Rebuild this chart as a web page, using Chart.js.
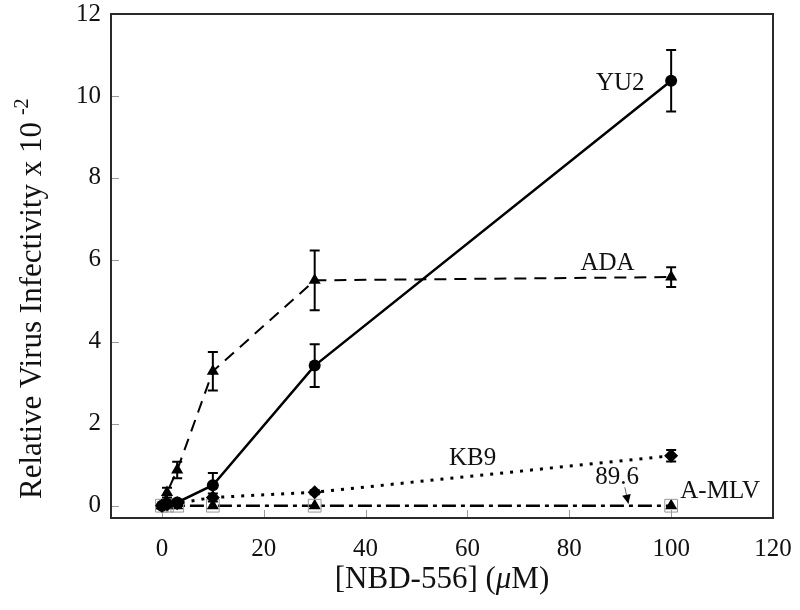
<!DOCTYPE html>
<html><head><meta charset="utf-8">
<script src="https://cdn.jsdelivr.net/npm/chart.js@4/dist/chart.umd.min.js"></script>
<style>html,body{margin:0;padding:0;background:#fff;} #wrap{width:800px;height:610px;position:relative;}</style>
</head><body><div id="wrap"><canvas id="c" width="800" height="610"></canvas></div>
<script>
// ---- data ----
const concentrations = [0, 1, 3, 10, 30, 100];
const yu2    = [0, 0.05, 0.08, 0.5, 3.42, 10.37];
const yu2Err = [0, 0, 0, 0.3, 0.52, 0.75];
const ada    = [0, 0.32, 0.87, 3.28, 5.5, 5.58];
const adaErr = [0, 0.12, 0.2, 0.47, 0.73, 0.24];
const kb9    = [0, 0.03, 0.06, 0.2, 0.33, 1.22];
const kb9Err = [0, 0, 0, 0.1, 0.05, 0.14];
const v896   = [0, 0, 0, 0, 0, 0];
const amlv   = [0, 0, 0, 0, 0, 0];
const xTicks = [0, 20, 40, 60, 80, 100, 120];
const yTicks = [0, 2, 4, 6, 8, 10, 12];
const seriesNames = ['YU2', 'ADA', 'KB9', '89.6', 'A-MLV'];
const xTitleParts = ['[NBD-556] (', '\u03BC', 'M)'];
const yTitle = 'Relative Virus Infectivity x 10';
const yTitleSup = '-2';

const SERIF = '"Liberation Serif", "Times New Roman", Times, serif';
const pts = (ys) => concentrations.map((x, i) => ({x: x, y: ys[i]}));

const errorBarPlugin = {
  id: 'errorBars',
  afterDatasetsDraw(chart) {
    const ctx = chart.ctx, xs = chart.scales.x, ys = chart.scales.y;
    ctx.save();
    ctx.strokeStyle = '#000';
    ctx.lineWidth = 2;
    chart.data.datasets.forEach((ds) => {
      if (!ds.errorBars) return;
      ds.data.forEach((p, i) => {
        const e = ds.errorBars[i];
        if (!e) return;
        const px = xs.getPixelForValue(p.x);
        const top = ys.getPixelForValue(p.y + e);
        const bot = ys.getPixelForValue(p.y - e);
        ctx.beginPath();
        ctx.moveTo(px, top); ctx.lineTo(px, bot);
        ctx.moveTo(px - 5, top); ctx.lineTo(px + 5, top);
        ctx.moveTo(px - 5, bot); ctx.lineTo(px + 5, bot);
        ctx.stroke();
      });
    });
    ctx.restore();
  }
};

const framePlugin = {
  id: 'frame',
  beforeDatasetsDraw(chart) {
    const ctx = chart.ctx, a = chart.chartArea, xs = chart.scales.x, ys = chart.scales.y;
    ctx.save();
    ctx.strokeStyle = '#999';
    ctx.lineWidth = 1;
    ctx.beginPath();
    xTicks.forEach(v => { const p = Math.round(xs.getPixelForValue(v)) + 0.5; ctx.moveTo(p, a.bottom); ctx.lineTo(p, a.bottom - 8); });
    yTicks.forEach(v => { const p = Math.round(ys.getPixelForValue(v)) + 0.5; ctx.moveTo(a.left, p); ctx.lineTo(a.left + 8, p); });
    ctx.stroke();
    ctx.restore();
  },
  afterDraw(chart) {
    const ctx = chart.ctx, a = chart.chartArea;
    ctx.save();
    ctx.strokeStyle = '#2a2a2a';
    ctx.lineWidth = 2;
    ctx.strokeRect(a.left, a.top, a.right - a.left, a.bottom - a.top);
    // x axis title (mu in italics)
    ctx.fillStyle = '#111';
    ctx.textBaseline = 'middle';
    ctx.textAlign = 'left';
    const fN = '31px ' + SERIF, fI = 'italic 31px ' + SERIF;
    ctx.font = fN; const w0 = ctx.measureText(xTitleParts[0]).width, w2 = ctx.measureText(xTitleParts[2]).width;
    ctx.font = fI; const w1 = ctx.measureText(xTitleParts[1]).width;
    let x = (a.left + a.right) / 2 - (w0 + w1 + w2) / 2;
    ctx.font = fN; ctx.fillText(xTitleParts[0], x, 580); x += w0;
    ctx.font = fI; ctx.fillText(xTitleParts[1], x, 580); x += w1;
    ctx.font = fN; ctx.fillText(xTitleParts[2], x, 580);
    // y axis title
    ctx.translate(33, 499);
    ctx.rotate(-Math.PI / 2);
    ctx.font = fN;
    ctx.fillText(yTitle, 0, 0);
    const w = ctx.measureText(yTitle).width;
    ctx.font = '20px ' + SERIF;
    ctx.fillText(yTitleSup, w + 7, -10);
    ctx.restore();
  }
};

const labelPlugin = {
  id: 'seriesLabels',
  afterDatasetsDraw(chart, args, opts) {
    const ctx = chart.ctx, xs = chart.scales.x, ys = chart.scales.y;
    ctx.save();
    ctx.fillStyle = '#111';
    ctx.font = '25px ' + SERIF;
    ctx.textBaseline = 'middle';
    opts.items.forEach(it => {
      ctx.textAlign = it.align || 'center';
      ctx.fillText(it.text, xs.getPixelForValue(it.x), ys.getPixelForValue(it.y));
    });
    // arrow for 89.6
    const ar = opts.arrow;
    const x1 = xs.getPixelForValue(ar.from[0]), y1 = ys.getPixelForValue(ar.from[1]);
    const x2 = xs.getPixelForValue(ar.to[0]), y2 = ys.getPixelForValue(ar.to[1]);
    ctx.strokeStyle = '#666'; ctx.lineWidth = 1;
    ctx.beginPath(); ctx.moveTo(x1, y1); ctx.lineTo(x2, y2); ctx.stroke();
    const ang = Math.atan2(y2 - y1, x2 - x1);
    ctx.fillStyle = '#000';
    ctx.beginPath();
    ctx.moveTo(x2, y2);
    ctx.lineTo(x2 - 10 * Math.cos(ang - 0.45), y2 - 10 * Math.sin(ang - 0.45));
    ctx.lineTo(x2 - 10 * Math.cos(ang + 0.45), y2 - 10 * Math.sin(ang + 0.45));
    ctx.closePath(); ctx.fill();
    ctx.restore();
  }
};

function draw() {
  new Chart(document.getElementById('c'), {
    type: 'line',
    data: {
      datasets: [
        { label: seriesNames[0], data: pts(yu2), errorBars: yu2Err, borderColor: '#000', backgroundColor: '#000',
          borderWidth: 2.5, pointStyle: 'circle', pointRadius: 6, pointBorderWidth: 0, clip: false },
        { label: seriesNames[1], data: pts(ada), errorBars: adaErr, borderColor: '#000', backgroundColor: '#000',
          borderWidth: 2, borderDash: [12, 8], pointStyle: 'triangle', pointRadius: 7, pointBorderWidth: 0, clip: false },
        { label: seriesNames[2], data: pts(kb9), errorBars: kb9Err, borderColor: '#000', backgroundColor: '#000',
          borderWidth: 3, borderDash: [3, 7], pointStyle: 'rectRot', pointRadius: 7, pointBorderWidth: 0, clip: false },
        { label: seriesNames[4], data: pts(amlv), borderColor: '#999', backgroundColor: 'rgba(0,0,0,0)',
          borderWidth: 0, showLine: false, pointStyle: 'rect', pointRadius: 9, pointBorderWidth: 1, pointBorderColor: '#999', clip: false },
        { label: seriesNames[3], data: pts(v896), borderColor: '#000', backgroundColor: '#000',
          borderWidth: 2.5, borderDash: [14, 5, 4, 5], pointStyle: 'triangle', pointRadius: 7, pointBorderWidth: 0, clip: false }
      ]
    },
    options: {
      responsive: false,
      animation: false,
      layout: { padding: { left: 0, top: 14, right: 27, bottom: 0 } },
      plugins: {
        legend: { display: false },
        tooltip: { enabled: false },
        seriesLabels: {
          items: [
            { text: 'YU2', x: 90, y: 10.3 },
            { text: 'ADA', x: 87.5, y: 5.92 },
            { text: 'KB9', x: 61, y: 1.15 },
            { text: '89.6', x: 89.4, y: 0.7 },
            { text: 'A-MLV', x: 101.8, y: 0.35, align: 'left' }
          ],
          arrow: { from: [90.9, 0.45], to: [91.6, 0.05] }
        }
      },
      scales: {
        x: {
          type: 'linear', min: -10, max: 120,
          afterBuildTicks: (s) => { s.ticks = xTicks.map(v => ({ value: v })); },
          afterFit: (s) => { s.height = 92; s.paddingLeft = 0; s.paddingRight = 0; },
          grid: { display: false, drawTicks: false },
          border: { display: false },
          ticks: { font: { family: SERIF, size: 25 }, color: '#111', padding: 16, maxRotation: 0 }
        },
        y: {
          type: 'linear', min: -0.3, max: 12,
          afterBuildTicks: (s) => { s.ticks = yTicks.map(v => ({ value: v })); },
          afterFit: (s) => { s.width = 111; s.paddingTop = 0; s.paddingBottom = 0; },
          grid: { display: false, drawTicks: false },
          border: { display: false },
          ticks: { font: { family: SERIF, size: 25 }, color: '#111', padding: 10 }
        }
      }
    },
    plugins: [framePlugin, errorBarPlugin, labelPlugin]
  });
}
if (document.fonts && document.fonts.load) {
  Promise.all([document.fonts.load('25px "Liberation Serif"'), document.fonts.load('italic 31px "Liberation Serif"')]).then(draw, draw);
} else { draw(); }
</script>
</body></html>
